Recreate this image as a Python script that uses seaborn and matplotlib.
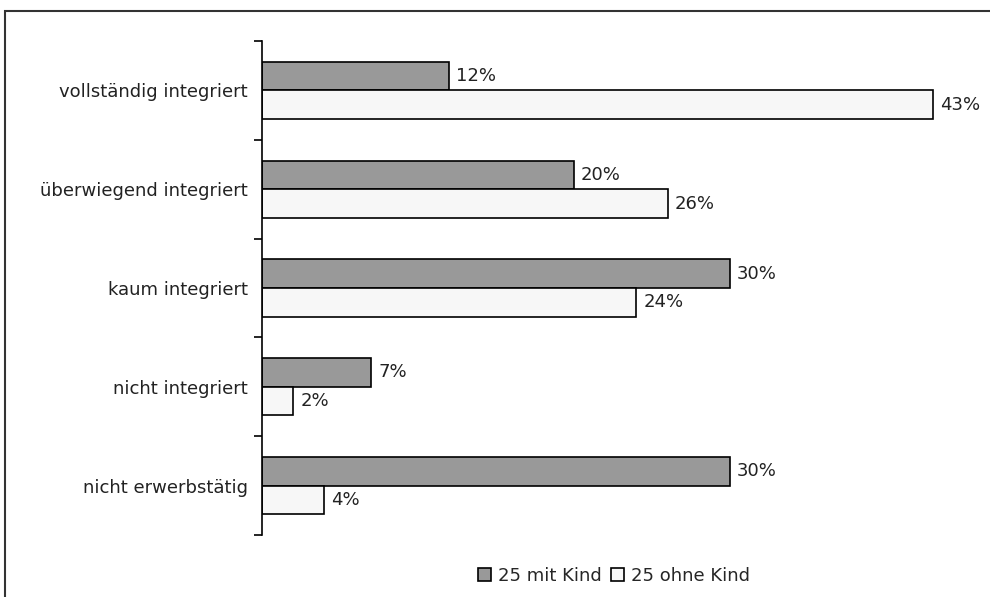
import matplotlib
matplotlib.use("Agg")
import matplotlib.pyplot as plt
from matplotlib.patches import Rectangle, Patch
from matplotlib.ticker import FixedLocator
import pandas as pd
import seaborn as sns

categories = ["vollständig integriert", "überwiegend integriert", "kaum integriert",
              "nicht integriert", "nicht erwerbstätig"]
series_names = ["25 mit Kind", "25 ohne Kind"]
mit_kind = [12, 20, 30, 7, 30]
ohne_kind = [43, 26, 24, 2, 4]
colors = ["#999999", "#f7f7f7"]

df = pd.DataFrame({
    "Kategorie": categories * 2,
    "Gruppe": [series_names[0]] * len(categories) + [series_names[1]] * len(categories),
    "Anteil": mit_kind + ohne_kind,
})

sns.set_theme(style="white")
plt.rcParams["font.family"] = ["DejaVu Sans"]
FS = 13

fig = plt.figure(figsize=(9.9, 5.97), dpi=100)
ax = fig.add_axes([262 / 990, 1 - 535 / 597, 1 - 262 / 990, (535 - 41) / 597])

sns.barplot(data=df, y="Kategorie", x="Anteil", hue="Gruppe", order=categories,
            hue_order=series_names, palette=colors, orient="h", width=0.58,
            edgecolor="black", linewidth=1.2, saturation=1, legend=False, ax=ax)

for container in ax.containers:
    ax.bar_label(container, labels=[f"{v:.0f}%" for v in container.datavalues],
                 padding=5, fontsize=FS, color="#222222")

ax.set_xlim(0, (990 - 262) / 15.6)
ax.set_ylim(len(categories) - 0.5, -0.5)
ax.set_xlabel("")
ax.set_ylabel("")
ax.set_xticks([])
for side in ["top", "right", "bottom"]:
    ax.spines[side].set_visible(False)
ax.spines["left"].set_color("black")
ax.spines["left"].set_linewidth(1.2)

ax.yaxis.set_minor_locator(FixedLocator([i - 0.5 for i in range(len(categories) + 1)]))
ax.tick_params(axis="y", which="major", length=0, pad=10, labelsize=FS, labelcolor="#222222")
ax.tick_params(axis="y", which="minor", length=6, width=1.2, color="black", direction="out", left=True)

# legend below the plot
handles = [Patch(facecolor=c, edgecolor="black", linewidth=1.2) for c in colors]
fig.legend(handles, series_names, loc="center", bbox_to_anchor=(614 / 990, 1 - 576 / 597),
           ncol=2, frameon=False, fontsize=FS, handlelength=0.7, handleheight=0.7,
           handletextpad=0.4, columnspacing=0.5, borderpad=0)

# outer frame of the figure
fig.patches.append(Rectangle((5 / 990, -0.1), 1.2, 1 - 11 / 597 + 0.1,
                             transform=fig.transFigure, fill=False,
                             edgecolor="#333333", linewidth=1.5))

fig.savefig("out.png", dpi=100)
